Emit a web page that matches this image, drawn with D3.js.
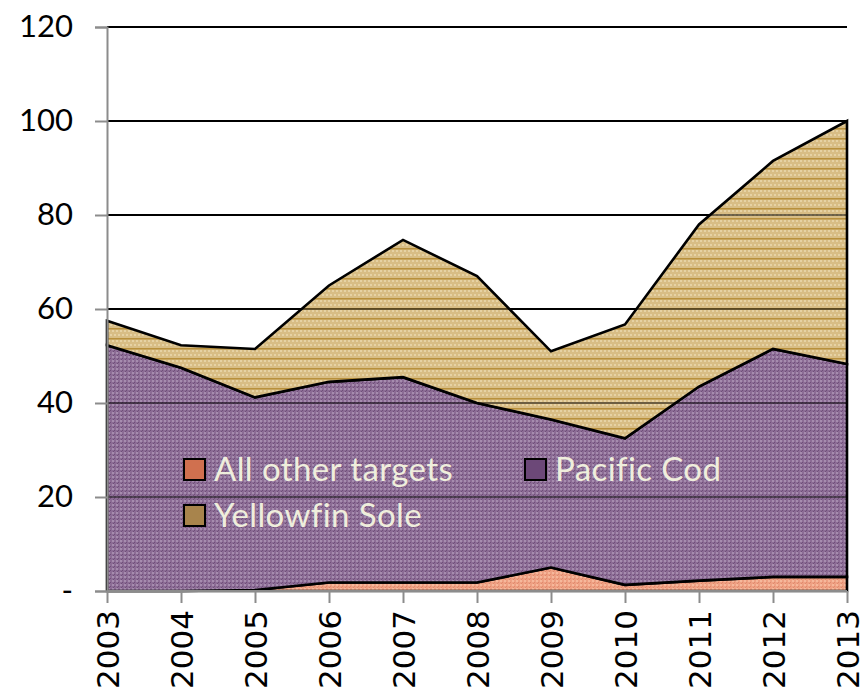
<!DOCTYPE html>
<html>
<head>
<meta charset="utf-8">
<script src="https://cdn.jsdelivr.net/npm/d3@7"></script>
<style>
  body { margin: 0; background: #fff; }
  svg { display: block; }
</style>
</head>
<body>
<svg id="chart" width="865" height="690"></svg>
<script>
// data
var years = [2003, 2004, 2005, 2006, 2007, 2008, 2009, 2010, 2011, 2012, 2013];
var otherTargets = [0, 0, 0.2, 1.8, 1.8, 1.8, 5.0, 1.3, 2.2, 3.0, 3.0];
var pacificCod = [52.3, 47.5, 41.0, 42.7, 43.7, 38.2, 31.5, 31.2, 41.3, 48.5, 45.3];
var yellowfinSole = [5.2, 4.8, 10.3, 20.5, 29.2, 27.0, 14.5, 24.2, 34.5, 40.0, 51.7];
var seriesNames = ["All other targets", "Pacific Cod", "Yellowfin Sole"];
var yTicks = [0, 20, 40, 60, 80, 100, 120];

var svg = d3.select("#chart");
var mLeft = 107, mRight = 847, mTop = 27, mBottom = 591;

var x = d3.scalePoint().domain(years).range([mLeft, mRight]);
var y = d3.scaleLinear().domain([0, 120]).range([mBottom, mTop]);

var rows = years.map(function(yr, i){
  return { year: yr, other: otherTargets[i], cod: pacificCod[i], sole: yellowfinSole[i] };
});
var stack = d3.stack().keys(["other", "cod", "sole"]);
var layers = stack(rows);

// fill patterns, roughly like the excel ones
var defs = svg.append("defs");
function checker(id, base, light, dark){
  var p = defs.append("pattern").attr("id", id)
    .attr("width", 4).attr("height", 4).attr("patternUnits", "userSpaceOnUse");
  p.append("rect").attr("width", 4).attr("height", 4).attr("fill", base);
  p.append("rect").attr("x", 0).attr("y", 0).attr("width", 2).attr("height", 2).attr("fill", light);
  p.append("rect").attr("x", 2).attr("y", 2).attr("width", 1).attr("height", 1).attr("fill", dark);
  p.append("rect").attr("x", 1).attr("y", 3).attr("width", 1).attr("height", 1).attr("fill", dark);
  return p;
}
checker("pOther", "#eea083", "#f6b89b", "#e08a6c");
checker("pCod", "#8c6c95", "#a68cae", "#6f4f79");
var ps = defs.append("pattern").attr("id", "pSole")
  .attr("width", 4).attr("height", 10).attr("patternUnits", "userSpaceOnUse");
ps.append("rect").attr("width", 4).attr("height", 10).attr("fill", "#d8bd85");
ps.append("rect").attr("x", 0).attr("y", 0).attr("width", 2).attr("height", 2).attr("fill", "#e6d2a4");
ps.append("rect").attr("x", 2).attr("y", 4).attr("width", 2).attr("height", 2).attr("fill", "#e6d2a4");
ps.append("rect").attr("x", 0).attr("y", 8).attr("width", 4).attr("height", 1.5).attr("fill", "#b8903c");

var fills = ["url(#pOther)", "url(#pCod)", "url(#pSole)"];
var swatchFills = ["#d0704f", "#6c4878", "#a8844c"];

// gridlines under the areas (show black over white)
svg.append("g").selectAll("line").data(yTicks.slice(1)).enter().append("line")
  .attr("x1", mLeft).attr("x2", mRight)
  .attr("y1", function(d){ return y(d); }).attr("y2", function(d){ return y(d); })
  .attr("stroke", "#000").attr("stroke-width", 2);

var area = d3.area()
  .x(function(d){ return x(d.data.year); })
  .y0(function(d){ return y(d[0]); })
  .y1(function(d){ return y(d[1]); });

svg.append("g").selectAll("path").data(layers).enter().append("path")
  .attr("d", area)
  .attr("fill", function(d, i){ return fills[i]; })
  .attr("stroke", "#000").attr("stroke-width", 2.6)
  .attr("stroke-linejoin", "miter");

// gridlines again, faint, so they show through the areas
svg.append("g").selectAll("line").data(yTicks.slice(1)).enter().append("line")
  .attr("x1", mLeft).attr("x2", mRight)
  .attr("y1", function(d){ return y(d); }).attr("y2", function(d){ return y(d); })
  .attr("stroke", "#000").attr("stroke-width", 2).attr("stroke-opacity", 0.5);

// axes
var yAxis = d3.axisLeft(y).tickValues(yTicks).tickSize(12).tickPadding(22)
  .tickFormat(function(d){ return d === 0 ? "-" : d; });
var gy = svg.append("g").attr("transform", "translate(" + mLeft + ",0)").call(yAxis);
gy.selectAll("line, path").attr("stroke", "#8c8c8c").attr("stroke-width", 2);
gy.selectAll("text").attr("font-family", "Lato, 'Open Sans', sans-serif")
  .attr("font-size", 31).attr("fill", "#000");

var xAxis = d3.axisBottom(x).tickSize(12).tickSizeOuter(0);
var gx = svg.append("g").attr("transform", "translate(0," + mBottom + ")").call(xAxis);
gx.selectAll("line, path").attr("stroke", "#8c8c8c").attr("stroke-width", 2);
gx.selectAll("text")
  .attr("font-family", "'DejaVu Sans', sans-serif").attr("font-size", 31).attr("fill", "#000")
  .attr("transform", "rotate(-90)")
  .attr("text-anchor", "end")
  .attr("x", -19).attr("y", 0).attr("dy", "0.36em");
gx.select(".domain").attr("d", "M" + mLeft + ",0H" + mRight);

// legend
var legendPos = [[184, 459], [525, 459], [184, 505]];
var lg = svg.append("g").selectAll("g").data(seriesNames).enter().append("g")
  .attr("transform", function(d, i){ return "translate(" + legendPos[i][0] + "," + legendPos[i][1] + ")"; });
lg.append("rect").attr("width", 21).attr("height", 21)
  .attr("fill", function(d, i){ return swatchFills[i]; })
  .attr("stroke", "#000").attr("stroke-width", 2);
lg.append("text").attr("x", 30).attr("y", 22)
  .attr("font-family", "Lato, 'Open Sans', sans-serif").attr("font-size", 33)
  .attr("letter-spacing", 0.4)
  .attr("fill", "#efeedc")
  .text(function(d){ return d; });
</script>
</body>
</html>
